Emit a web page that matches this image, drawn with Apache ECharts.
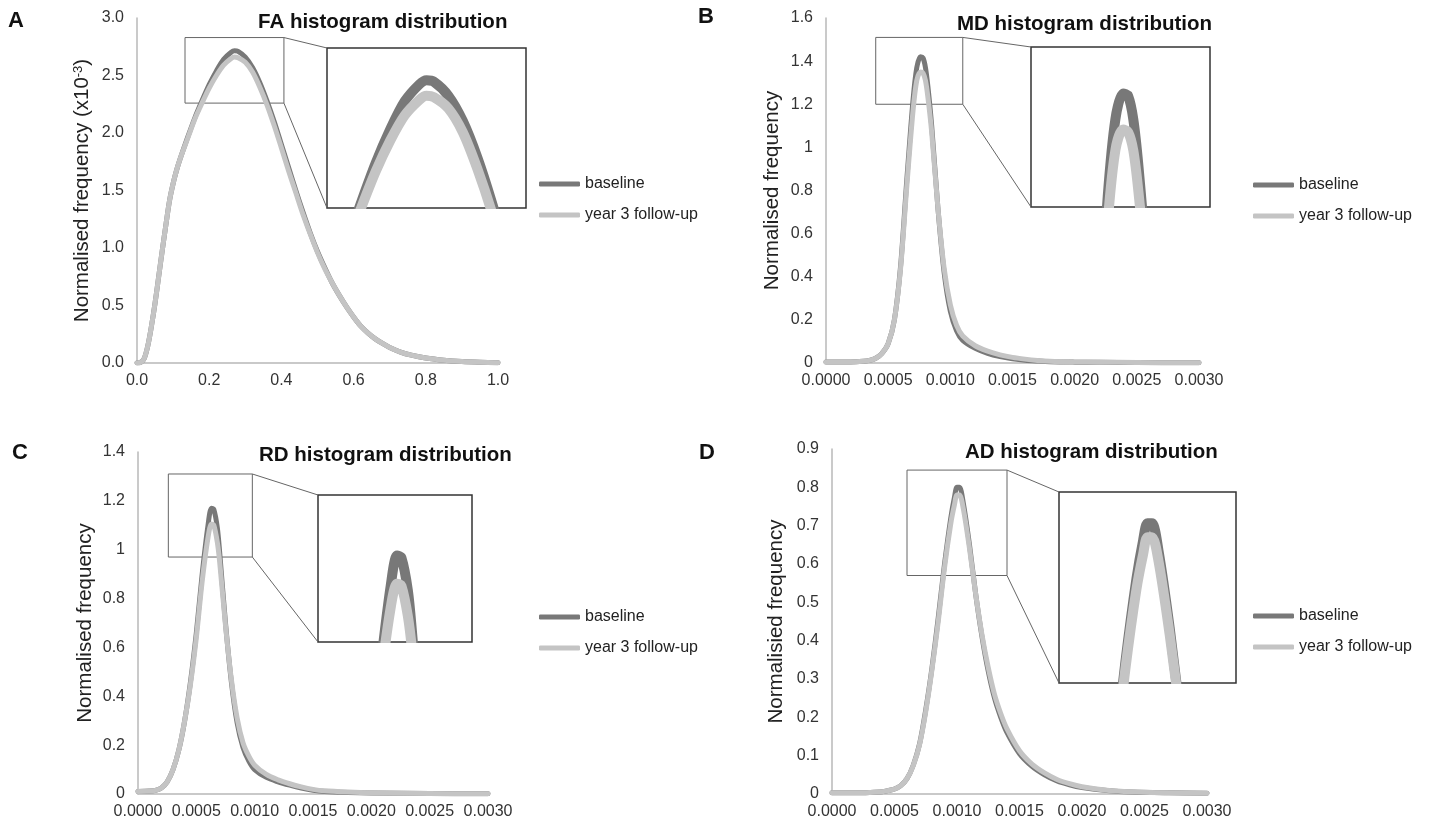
<!DOCTYPE html>
<html>
<head>
<meta charset="utf-8">
<title>DTI histogram distributions</title>
<script src="https://cdn.jsdelivr.net/npm/echarts@6/dist/echarts.min.js"></script>
<style>
  html, body { margin: 0; padding: 0; background: #fff; }
  #chart { width: 1440px; height: 824px; }
</style>
</head>
<body>
<div id="chart"></div>
<script>
// FA (x 0..1, y in x10^-3)
const faX = [0, 0.01, 0.02, 0.03, 0.04, 0.05, 0.06, 0.07, 0.08, 0.09, 0.10, 0.11, 0.12, 0.14, 0.16, 0.18, 0.20, 0.22, 0.24, 0.26, 0.27, 0.28, 0.30, 0.32, 0.34, 0.36, 0.38, 0.40, 0.42, 0.44, 0.46, 0.48, 0.50, 0.52, 0.54, 0.56, 0.58, 0.60, 0.62, 0.64, 0.66, 0.68, 0.70, 0.73, 0.76, 0.80, 0.85, 0.90, 0.95, 1.0]
const faBaseline = [0, 0.005, 0.04, 0.15, 0.32, 0.52, 0.75, 0.98, 1.2, 1.41, 1.56, 1.68, 1.78, 1.96, 2.13, 2.28, 2.42, 2.54, 2.64, 2.70, 2.715, 2.71, 2.66, 2.57, 2.44, 2.28, 2.1, 1.9, 1.7, 1.5, 1.31, 1.13, 0.97, 0.83, 0.7, 0.59, 0.49, 0.4, 0.32, 0.26, 0.21, 0.17, 0.135, 0.095, 0.068, 0.043, 0.024, 0.012, 0.006, 0.003]
const faFollowUp = [0, 0.005, 0.04, 0.15, 0.32, 0.52, 0.75, 0.98, 1.2, 1.41, 1.56, 1.68, 1.78, 1.95, 2.12, 2.26, 2.39, 2.50, 2.59, 2.645, 2.66, 2.655, 2.615, 2.53, 2.40, 2.245, 2.065, 1.87, 1.67, 1.48, 1.29, 1.12, 0.96, 0.82, 0.7, 0.59, 0.49, 0.4, 0.32, 0.26, 0.21, 0.17, 0.135, 0.095, 0.068, 0.043, 0.024, 0.012, 0.006, 0.003]
const faZoom = [0.133, 0.407, 2.26, 2.83] // x0, x1, y0, y1 of the zoom box

// MD
const mdX = [0, 0.0002, 0.0003, 0.00035, 0.0004, 0.00045, 0.0005, 0.00055, 0.0006, 0.00065, 0.0007, 0.00073, 0.00076, 0.00078, 0.0008, 0.00082, 0.00085, 0.0009, 0.00095, 0.001, 0.00105, 0.0011, 0.0012, 0.0013, 0.0014, 0.0015, 0.0016, 0.0017, 0.0018, 0.002, 0.0022, 0.0025, 0.003]
const mdBaseline = [0.005, 0.005, 0.008, 0.012, 0.022, 0.045, 0.09, 0.2, 0.45, 0.85, 1.22, 1.37, 1.42, 1.415, 1.37, 1.28, 1.1, 0.72, 0.42, 0.24, 0.15, 0.105, 0.068, 0.045, 0.03, 0.02, 0.013, 0.009, 0.006, 0.004, 0.003, 0.002, 0.001]
const mdFollowUp = [0.005, 0.005, 0.008, 0.012, 0.022, 0.045, 0.09, 0.2, 0.44, 0.82, 1.17, 1.31, 1.35, 1.345, 1.31, 1.23, 1.07, 0.72, 0.44, 0.27, 0.175, 0.125, 0.08, 0.055, 0.038, 0.026, 0.018, 0.012, 0.008, 0.005, 0.004, 0.002, 0.001]
const mdZoom = [0.0004, 0.0011, 1.2, 1.51]

// RD
const rdX = [0, 0.0001, 0.00015, 0.0002, 0.00025, 0.0003, 0.00035, 0.0004, 0.00045, 0.0005, 0.00055, 0.0006, 0.00063, 0.00065, 0.00068, 0.0007, 0.00075, 0.0008, 0.00085, 0.0009, 0.00095, 0.001, 0.0011, 0.0012, 0.0013, 0.0014, 0.0015, 0.0016, 0.0018, 0.002, 0.0025, 0.003]
const rdBaseline = [0.01, 0.012, 0.015, 0.025, 0.05, 0.1, 0.18, 0.3, 0.46, 0.66, 0.9, 1.1, 1.17, 1.165, 1.09, 0.99, 0.7, 0.46, 0.29, 0.19, 0.135, 0.1, 0.068, 0.05, 0.036, 0.024, 0.015, 0.01, 0.006, 0.004, 0.002, 0.001]
const rdFollowUp = [0.01, 0.012, 0.015, 0.025, 0.05, 0.1, 0.18, 0.3, 0.45, 0.64, 0.87, 1.05, 1.105, 1.1, 1.03, 0.95, 0.69, 0.47, 0.31, 0.21, 0.155, 0.118, 0.08, 0.058, 0.042, 0.029, 0.019, 0.013, 0.008, 0.005, 0.002, 0.001]
const rdZoom = [0.00026, 0.00098, 0.97, 1.31]

// AD
const adX = [0, 0.0002, 0.0003, 0.0004, 0.00045, 0.0005, 0.00055, 0.0006, 0.00065, 0.0007, 0.00075, 0.0008, 0.00085, 0.0009, 0.00095, 0.00098, 0.001, 0.00102, 0.00105, 0.0011, 0.00115, 0.0012, 0.00125, 0.0013, 0.00135, 0.0014, 0.0015, 0.0016, 0.0017, 0.0018, 0.0019, 0.002, 0.0022, 0.0024, 0.0027, 0.003]
const adBaseline = [0.003, 0.003, 0.004, 0.006, 0.009, 0.013, 0.022, 0.04, 0.075, 0.13, 0.22, 0.33, 0.46, 0.6, 0.72, 0.775, 0.8, 0.8, 0.76, 0.65, 0.52, 0.41, 0.32, 0.25, 0.2, 0.16, 0.105, 0.072, 0.05, 0.034, 0.024, 0.017, 0.009, 0.005, 0.003, 0.002]
const adFollowUp = [0.003, 0.003, 0.004, 0.006, 0.009, 0.013, 0.022, 0.04, 0.074, 0.128, 0.215, 0.325, 0.45, 0.59, 0.705, 0.755, 0.78, 0.78, 0.745, 0.64, 0.52, 0.415, 0.33, 0.26, 0.21, 0.17, 0.113, 0.078, 0.055, 0.038, 0.027, 0.019, 0.01, 0.006, 0.003, 0.002]
const adZoom = [0.0006, 0.0014, 0.57, 0.845]

const seriesNames = ['baseline', 'year 3 follow-up']

const FONT = '"Liberation Sans", Arial, sans-serif'
const DARK = '#787878'
const LIGHT = '#c4c4c4'

const panels = [
  {
    letter: 'A', title: 'FA histogram distribution',
    yName: '{t|Normalised frequency (x10}{s|-3}{t|)}',
    x: faX, base: faBaseline, follow: faFollowUp, zoom: faZoom,
    xMax: 1, xStep: 0.2, xFmt: v => v.toFixed(1), yMax: 3, yStep: 0.5, yFmt: v => v.toFixed(1),
    grid: { left: 137, top: 18, width: 361, height: 345 },
    inset: { left: 327, top: 48, width: 199, height: 160 },
    legendPos: [539, 176], letterPos: [8, 10], titlePos: [258, 12], nameGap: 44
  },
  {
    letter: 'B', title: 'MD histogram distribution',
    yName: 'Normalised frequency',
    x: mdX, base: mdBaseline, follow: mdFollowUp, zoom: mdZoom,
    xMax: 0.003, xStep: 0.0005, xFmt: v => v.toFixed(4), yMax: 1.6, yStep: 0.2, yFmt: null,
    grid: { left: 826, top: 18, width: 373, height: 345 },
    inset: { left: 1031, top: 47, width: 179, height: 160 },
    legendPos: [1253, 177], letterPos: [698, 6], titlePos: [957, 14], nameGap: 43
  },
  {
    letter: 'C', title: 'RD histogram distribution',
    yName: 'Normalised frequency',
    x: rdX, base: rdBaseline, follow: rdFollowUp, zoom: rdZoom,
    xMax: 0.003, xStep: 0.0005, xFmt: v => v.toFixed(4), yMax: 1.4, yStep: 0.2, yFmt: null,
    grid: { left: 138, top: 452, width: 350, height: 342 },
    inset: { left: 318, top: 495, width: 154, height: 147 },
    legendPos: [539, 609], letterPos: [12, 442], titlePos: [259, 445], nameGap: 42
  },
  {
    letter: 'D', title: 'AD histogram distribution',
    yName: 'Normalisied frequency',
    x: adX, base: adBaseline, follow: adFollowUp, zoom: adZoom,
    xMax: 0.003, xStep: 0.0005, xFmt: v => v.toFixed(4), yMax: 0.9, yStep: 0.1, yFmt: null,
    grid: { left: 832, top: 449, width: 375, height: 345 },
    inset: { left: 1059, top: 492, width: 177, height: 191 },
    legendPos: [1253, 608], letterPos: [699, 442], titlePos: [965, 442], nameGap: 45
  }
]

const chart = echarts.init(document.getElementById('chart'))

const grid = []
const xAxis = []
const yAxis = []
const series = []
const title = []
const legend = []

const toPairs = (xs, ys) => xs.map((x, k) => [x, ys[k]])

const makeLine = (name, data, axisIndex, color, width, extra) => Object.assign({
  name: name,
  type: 'line',
  xAxisIndex: axisIndex,
  yAxisIndex: axisIndex,
  data: data,
  smooth: 0.3,
  showSymbol: false,
  symbol: 'none',
  clip: true,
  itemStyle: { color: color },
  lineStyle: { color: color, width: width, cap: 'round', join: 'round' },
  emphasis: { disabled: true }
}, extra || {})

panels.forEach((p, i) => {
  const g = 2 * i
  const gi = 2 * i + 1
  const [zx0, zx1, zy0, zy1] = p.zoom

  // main plot
  grid.push(Object.assign({ show: false }, p.grid))
  xAxis.push({
    type: 'value', gridIndex: g, min: 0, max: p.xMax, interval: p.xStep,
    axisLine: { show: true, lineStyle: { color: '#b8b8b8', width: 1.5 } },
    axisTick: { show: false }, splitLine: { show: false },
    axisLabel: { formatter: p.xFmt, color: '#333', fontSize: 16, fontFamily: FONT, margin: 10 }
  })
  yAxis.push({
    type: 'value', gridIndex: g, min: 0, max: p.yMax, interval: p.yStep,
    name: p.yName, nameLocation: 'middle', nameGap: p.nameGap,
    nameTextStyle: {
      fontSize: 20.5, color: '#222', fontFamily: FONT,
      rich: {
        t: { fontSize: 20.5, color: '#222', fontFamily: FONT },
        s: { fontSize: 13, color: '#222', fontFamily: FONT, verticalAlign: 'top' }
      }
    },
    axisLine: { show: true, lineStyle: { color: '#b8b8b8', width: 1.5 } },
    axisTick: { show: false }, splitLine: { show: false },
    axisLabel: Object.assign({ color: '#333', fontSize: 16, fontFamily: FONT, margin: 13 },
      p.yFmt ? { formatter: p.yFmt } : {})
  })

  // zoomed inset, same data through its own scales
  grid.push(Object.assign({ show: true, borderColor: '#333', borderWidth: 1.5, backgroundColor: '#fff' }, p.inset))
  xAxis.push({ type: 'value', gridIndex: gi, min: zx0, max: zx1, show: false })
  yAxis.push({ type: 'value', gridIndex: gi, min: zy0, max: zy1, show: false })

  series.push(makeLine(seriesNames[0], toPairs(p.x, p.base), g, DARK, 5, {
    markArea: {
      silent: true,
      itemStyle: { color: 'rgba(0,0,0,0)', borderColor: '#666', borderWidth: 1 },
      label: { show: false },
      data: [[{ coord: [zx0, zy1] }, { coord: [zx1, zy0] }]]
    }
  }))
  series.push(makeLine(seriesNames[1], toPairs(p.x, p.follow), g, LIGHT, 5))
  series.push(makeLine(seriesNames[0], toPairs(p.x, p.base), gi, DARK, 10))
  series.push(makeLine(seriesNames[1], toPairs(p.x, p.follow), gi, LIGHT, 10))

  title.push({
    text: p.title, left: p.titlePos[0], top: p.titlePos[1], padding: 0,
    textStyle: { fontSize: 20.5, fontWeight: 'bold', color: '#111', fontFamily: FONT }
  })
  title.push({
    text: p.letter, left: p.letterPos[0], top: p.letterPos[1], padding: 0,
    textStyle: { fontSize: 22, fontWeight: 'bold', color: '#111', fontFamily: FONT }
  })

  legend.push({
    orient: 'vertical', left: p.legendPos[0], top: p.legendPos[1], padding: 0,
    data: seriesNames, icon: 'roundRect', itemWidth: 41, itemHeight: 5, itemGap: 15,
    selectedMode: false,
    textStyle: { fontSize: 16, lineHeight: 16, color: '#222', fontFamily: FONT }
  })
})

chart.setOption({
  animation: false,
  backgroundColor: '#fff',
  title: title,
  legend: legend,
  grid: grid,
  xAxis: xAxis,
  yAxis: yAxis,
  series: series
})

// connector lines from the zoom box to the inset, and a white strip
// under each inset so the thick lines stop at the box edge
const extras = []
panels.forEach((p, i) => {
  const [zx0, zx1, zy0, zy1] = p.zoom
  const a1 = chart.convertToPixel({ gridIndex: 2 * i }, [zx1, zy1])
  const a2 = chart.convertToPixel({ gridIndex: 2 * i }, [zx1, zy0])
  const b1 = chart.convertToPixel({ gridIndex: 2 * i + 1 }, [zx0, zy1])
  const b2 = chart.convertToPixel({ gridIndex: 2 * i + 1 }, [zx0, zy0])
  const b3 = chart.convertToPixel({ gridIndex: 2 * i + 1 }, [zx1, zy0])
  extras.push({
    type: 'rect', silent: true, z: 50,
    shape: { x: b2[0] + 1, y: b2[1] + 1, width: b3[0] - b2[0] - 2, height: 8 },
    style: { fill: '#fff' }
  })
  ;[[a1, b1], [a2, b2]].forEach(([a, b]) => {
    extras.push({
      type: 'line', silent: true, z: 60,
      shape: { x1: a[0], y1: a[1], x2: b[0], y2: b[1] },
      style: { stroke: '#666', lineWidth: 1 }
    })
  })
})
chart.setOption({ graphic: extras })
</script>
</body>
</html>
